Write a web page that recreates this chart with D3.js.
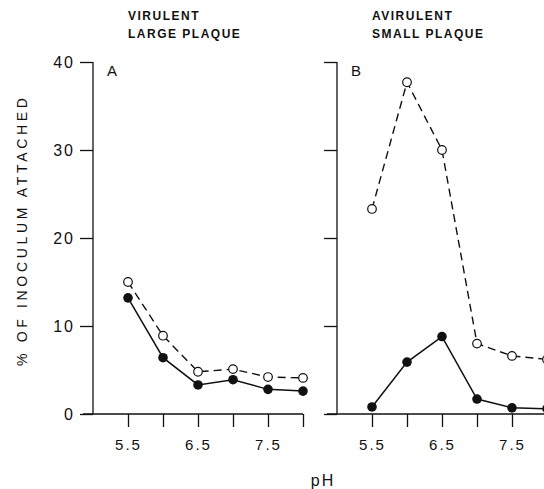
<!DOCTYPE html>
<html><head><meta charset="utf-8">
<script src="https://cdn.jsdelivr.net/npm/d3@7"></script>
<style>
body{margin:0;background:#fff;}
text{font-family:"Liberation Sans",Arial,sans-serif;fill:#111;}
</style></head><body>
<svg id="c" width="544" height="489"></svg>
<script>
const pH = [5.5, 6.0, 6.5, 7.0, 7.5, 8.0];
const xTickLabels = ["5.5", "", "6.5", "", "7.5", ""];
const yTicks = [0, 10, 20, 30, 40];
const panelLetters = ["A", "B"];
const panelTitles = [["VIRULENT", "LARGE PLAQUE"], ["AVIRULENT", "SMALL PLAQUE"]];
const openA = [15.0, 8.9, 4.8, 5.1, 4.2, 4.1];
const filledA = [13.2, 6.4, 3.3, 3.9, 2.8, 2.6];
const openB = [23.3, 37.7, 30.0, 8.0, 6.6, 6.2];
const filledB = [0.8, 5.9, 8.8, 1.7, 0.7, 0.6];
const openSeries = [openA, openB];
const filledSeries = [filledA, filledB];

const svg = d3.select("#c");
const y = d3.scaleLinear().domain([0, 40]).range([414, 62]);
const axisX = [93, 337];

panelLetters.forEach((L, i) => {
  const ax = axisX[i];
  const x = d3.scaleLinear().domain([5.5, 8.0]).range([ax + 35, ax + 210]);
  const g = svg.append("g");
  // y axis
  const yAx = d3.axisLeft(y).tickValues(yTicks).tickSize(13).tickPadding(5)
    .tickFormat(i === 0 ? d3.format("d") : () => "");
  const gy = g.append("g").attr("transform", `translate(${ax},0)`).call(yAx);
  gy.select(".domain").attr("d", `M0,${y(40)}V${y(0)}`);
  gy.selectAll("line").attr("stroke", "#111").attr("stroke-width", 1.3);
  gy.select(".domain").attr("stroke", "#111").attr("stroke-width", 1.3);
  gy.selectAll("text").style("font-size", "16px").style("letter-spacing", "2px").attr("fill", "#111");
  // x axis
  const xAx = d3.axisBottom(x).tickValues(pH).tickSize(13).tickPadding(12)
    .tickFormat((d, k) => xTickLabels[k]);
  const gx = g.append("g").attr("transform", `translate(0,${y(0)})`).call(xAx);
  const xEnd = i === 0 ? x(8.0) : 544;
  gx.select(".domain").attr("d", `M${ax - 10},0H${xEnd}`).attr("stroke", "#111").attr("stroke-width", 1.3);
  gx.selectAll("line").attr("stroke", "#111").attr("stroke-width", 1.3);
  gx.selectAll("text").style("font-size", "15px").style("letter-spacing", "2px").attr("fill", "#111");

  // panel letter
  g.append("text").attr("x", ax + 14).attr("y", 76).style("font-size", "15px").text(L);
  // titles
  panelTitles[i].forEach((t, k) => {
    g.append("text").attr("x", ax + 35).attr("y", 20 + k * 18)
      .style("font-size", "12px").style("font-weight", "bold").style("letter-spacing", "1.5px").text(t);
  });

  const line = d3.line().x((d, k) => x(pH[k])).y(d => y(d));
  g.append("path").datum(openSeries[i]).attr("d", line).attr("fill", "none")
    .attr("stroke", "#111").attr("stroke-width", 1.4).attr("stroke-dasharray", "8,5");
  g.append("path").datum(filledSeries[i]).attr("d", line).attr("fill", "none")
    .attr("stroke", "#111").attr("stroke-width", 1.5);
  g.selectAll(".o").data(openSeries[i]).join("circle")
    .attr("cx", (d, k) => x(pH[k])).attr("cy", d => y(d)).attr("r", 4.3)
    .attr("fill", "#fff").attr("stroke", "#111").attr("stroke-width", 1.2);
  g.selectAll(".f").data(filledSeries[i]).join("circle")
    .attr("cx", (d, k) => x(pH[k])).attr("cy", d => y(d)).attr("r", 4.8)
    .attr("fill", "#111");
});

// y label
svg.append("text").attr("transform", "translate(27,232) rotate(-90)")
  .attr("text-anchor", "middle").style("font-size", "14px")
  .attr("textLength", 268).attr("lengthAdjust", "spacing")
  .text("% OF INOCULUM ATTACHED");
// x label
svg.append("text").attr("x", 323).attr("y", 486).attr("text-anchor", "middle")
  .style("font-size", "16px").style("letter-spacing", "2px").text("pH");
</script></body></html>
